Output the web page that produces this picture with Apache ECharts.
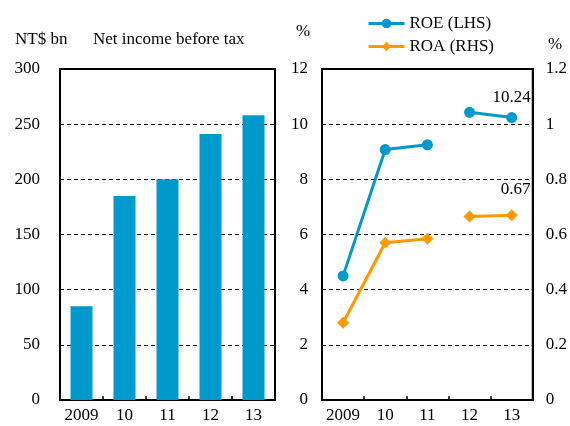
<!DOCTYPE html>
<html>
<head>
<meta charset="UTF-8">
<title>Net income, ROE and ROA</title>
<script src="https://cdn.jsdelivr.net/npm/echarts@6/dist/echarts.min.js"></script>
<style>
  html, body { margin: 0; padding: 0; background: #fff; }
  #chart { width: 570px; height: 426px; }
</style>
</head>
<body>
<div id="chart"></div>
<script>
// data
var years = ['2009', '10', '11', '12', '13'];
var netIncome = [85, 185, 200, 241, 258];
var roe = [4.5, 9.08, 9.25, 10.43, 10.24];
var roa = [0.28, 0.57, 0.585, 0.665, 0.67];

// the lines break between 11 and 12
function part(arr, from, to) {
  return arr.map(function (v, i) { return (i >= from && i <= to) ? v : '-'; });
}

var font = 'Liberation Serif, Times New Roman, serif';
var fs = 17;
var blue = '#0099cc';
var orange = '#ff9900';

var myChart = echarts.init(document.getElementById('chart'));

var axisX = function (idx) {
  return {
    type: 'category', gridIndex: idx, data: years,
    axisLine: { lineStyle: { color: '#000', width: 2 } },
    axisTick: { show: true, inside: true, length: 4, lineStyle: { color: '#000', width: 1.5 } },
    axisLabel: { color: '#000', fontFamily: font, fontSize: fs, margin: 7, interval: 0 },
    splitLine: { show: false }
  };
};
var dashed = { show: true, lineStyle: { color: '#000', type: [4, 3], width: 1 } };

myChart.setOption({
  animation: false,
  textStyle: { fontFamily: font },
  graphic: [
    { type: 'text', left: 15, top: 31, style: { text: 'NT$ bn', font: fs + 'px ' + font, fill: '#000' } },
    { type: 'text', left: 93, top: 31, style: { text: 'Net income before tax', font: fs + 'px ' + font, fill: '#000' } },
    { type: 'text', left: 296, top: 23, style: { text: '%', font: fs + 'px ' + font, fill: '#000' } },
    { type: 'text', left: 548, top: 36, style: { text: '%', font: fs + 'px ' + font, fill: '#000' } }
  ],
  legend: {
    orient: 'vertical', left: 362, top: 10, itemGap: 6,
    itemWidth: 36, itemHeight: 12, itemGap: 6,
    lineStyle: { width: 3 },
    textStyle: { color: '#000', fontFamily: font, fontSize: fs },
    data: ['ROE (LHS)', 'ROA (RHS)']
  },
  grid: [
    { left: 60, top: 69, width: 215, height: 331, show: true, borderColor: '#000', borderWidth: 2 },
    { left: 322, top: 69, width: 213, height: 331, show: true, borderColor: '#000', borderWidth: 2 }
  ],
  xAxis: [axisX(0), axisX(1)],
  yAxis: [
    {
      type: 'value', gridIndex: 0, min: 0, max: 300, interval: 50,
      axisLine: { show: true, lineStyle: { color: '#000', width: 2 } },
      axisTick: { show: false },
      axisLabel: { color: '#000', fontFamily: font, fontSize: fs, margin: 20 },
      splitLine: dashed
    },
    {
      type: 'value', gridIndex: 1, min: 0, max: 12, interval: 2,
      axisLine: { show: true, lineStyle: { color: '#000', width: 2 } },
      axisTick: { show: false },
      axisLabel: { color: '#000', fontFamily: font, fontSize: fs, margin: 14 },
      splitLine: dashed
    },
    {
      type: 'value', gridIndex: 1, position: 'right', min: 0, max: 1.2, interval: 0.2,
      axisLine: { show: true, lineStyle: { color: '#000', width: 2 } },
      axisTick: { show: false },
      axisLabel: {
        color: '#000', fontFamily: font, fontSize: fs, margin: 13,
        formatter: function (v) { return String(Math.round(v * 10) / 10); }
      },
      splitLine: { show: false }
    }
  ],
  series: [
    {
      name: 'Net income before tax', type: 'bar', xAxisIndex: 0, yAxisIndex: 0,
      data: netIncome, barWidth: 22, itemStyle: { color: blue }
    },
    {
      name: 'ROE (LHS)', type: 'line', xAxisIndex: 1, yAxisIndex: 1,
      data: part(roe, 0, 2), symbol: 'circle', symbolSize: 11,
      lineStyle: { color: blue, width: 3 }, itemStyle: { color: blue }
    },
    {
      name: 'ROE (LHS)', type: 'line', xAxisIndex: 1, yAxisIndex: 1,
      data: part(roe, 3, 4), symbol: 'circle', symbolSize: 11,
      lineStyle: { color: blue, width: 3 }, itemStyle: { color: blue },
      label: {
        show: true, position: 'top', distance: 6, color: '#000', fontFamily: font, fontSize: fs,
        formatter: function (p) { return p.dataIndex === 4 ? p.value.toFixed(2) : ''; }
      }
    },
    {
      name: 'ROA (RHS)', type: 'line', xAxisIndex: 1, yAxisIndex: 2,
      data: part(roa, 0, 2), symbol: 'diamond', symbolSize: 12,
      lineStyle: { color: orange, width: 3 }, itemStyle: { color: orange }
    },
    {
      name: 'ROA (RHS)', type: 'line', xAxisIndex: 1, yAxisIndex: 2,
      data: part(roa, 3, 4), symbol: 'diamond', symbolSize: 12,
      lineStyle: { color: orange, width: 3 }, itemStyle: { color: orange },
      label: {
        show: true, position: 'top', distance: 11, offset: [4, 0], color: '#000', fontFamily: font, fontSize: fs,
        formatter: function (p) { return p.dataIndex === 4 ? p.value.toFixed(2) : ''; }
      }
    }
  ]
});
</script>
</body>
</html>
